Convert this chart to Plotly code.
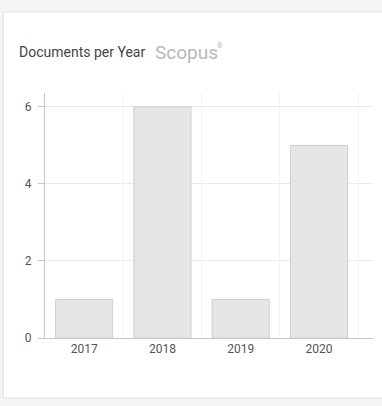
import plotly.graph_objects as go

years = ["2017", "2018", "2019", "2020"]
documents = [1, 6, 1, 5]
y_ticks = [0, 2, 4, 6]

fig = go.Figure()
fig.add_trace(go.Bar(
    x=years, y=documents,
    marker=dict(color="#e6e6e6", line=dict(color="#cfcfcf", width=1)),
    hoverinfo="x+y",
))

fig.update_layout(
    width=382, height=406,
    margin=dict(l=45, r=9, t=93, b=68),
    paper_bgcolor="#f4f4f4",
    plot_bgcolor="white",
    bargap=0.27,
    showlegend=False,
    font=dict(family="Roboto, sans-serif", color="#555", size=11),
    xaxis=dict(
        range=[-0.5, 3.69], tickson="boundaries",
        showgrid=True, gridcolor="#f2f2f2", showline=True, linecolor="#c8c8c8",
        ticks="", tickfont=dict(size=12, color="#555"),
    ),
    yaxis=dict(
        range=[0, 6.36], tickvals=y_ticks, showgrid=True, gridcolor="#ebebeb",
        showline=True, linecolor="#c8c8c8", ticks="outside", ticklen=6,
        tickcolor="#c8c8c8", zeroline=False, ticklabelstandoff=4,
        tickfont=dict(size=12, color="#555"),
    ),
    shapes=[dict(type="rect", xref="paper", yref="paper",
                 x0=-0.127, x1=1.054, y0=-0.245, y1=1.331,
                 line=dict(color="#e2e2e2", width=1), fillcolor="white", layer="below")],
    annotations=[
        dict(text="Documents per Year", xref="paper", yref="paper", x=-0.085, y=1.167,
             xanchor="left", yanchor="middle", showarrow=False,
             font=dict(size=14, color="#444", family="Roboto, sans-serif")),
        dict(text="Scopus", xref="paper", yref="paper",
             x=0.33, y=1.167, xanchor="left", yanchor="middle", showarrow=False,
             font=dict(size=19, color="#b8b8b8", family="Roboto, sans-serif")),
        dict(text="®", xref="paper", yref="paper",
             x=0.518, y=1.19, xanchor="left", yanchor="middle", showarrow=False,
             font=dict(size=7, color="#b8b8b8", family="Roboto, sans-serif")),
    ],
)

fig.write_html("out.html", config={"displayModeBar": False},
               post_script="document.body.style.margin='0';")
